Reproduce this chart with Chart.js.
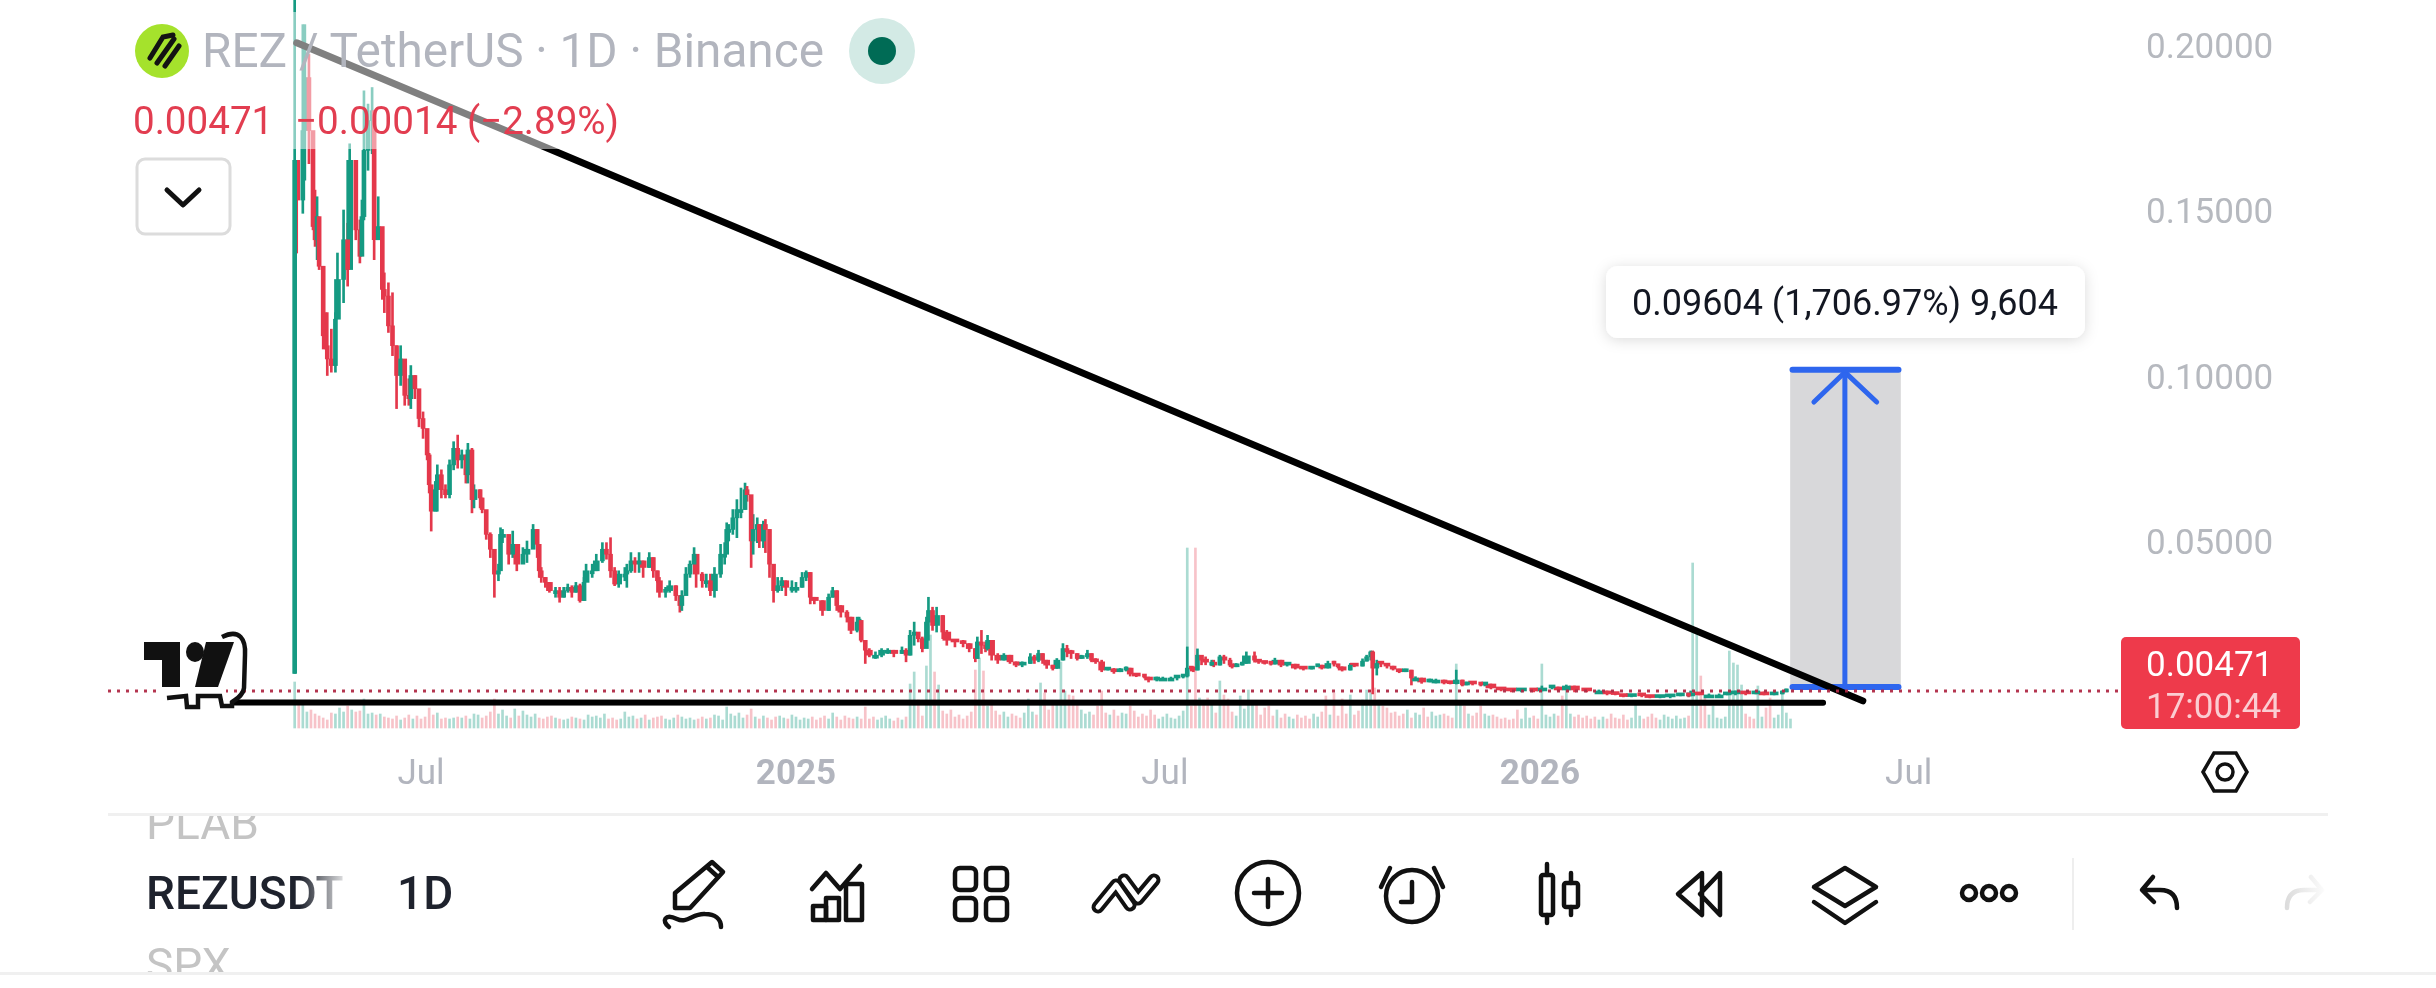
<!DOCTYPE html>
<html>
<head>
<meta charset="utf-8">
<title>REZUSDT 1D</title>
<script src="https://cdn.jsdelivr.net/npm/chart.js"></script>
<style>
  html, body { margin: 0; background: #fff; overflow: hidden; }
  #wrap { position: relative; width: 2436px; height: 988px; }
  canvas { position: absolute; left: 0; top: 0; }
  svg { position: absolute; left: 0; top: 0; font-family: Roboto, sans-serif; }
</style>
</head>
<body>
<div id="wrap">
  <canvas id="chart" width="2436" height="988"></canvas>
  <svg width="2436" height="988" viewBox="0 0 2436 988">
    <defs>
      <linearGradient id="symFade" gradientUnits="userSpaceOnUse" x1="300" x2="346" y1="0" y2="0">
        <stop offset="0" stop-color="#1e222d"/><stop offset="1" stop-color="#1e222d" stop-opacity="0.1"/>
      </linearGradient>
      <linearGradient id="redoFade" gradientUnits="userSpaceOnUse" x1="2286" x2="2324" y1="0" y2="0">
        <stop offset="0" stop-color="#dcdcdc"/><stop offset="1" stop-color="#dcdcdc" stop-opacity="0.1"/>
      </linearGradient>
      <clipPath id="listClip"><rect x="100" y="816" width="400" height="156"/></clipPath>
      <filter id="soft" x="-10%" y="-30%" width="120%" height="170%">
        <feDropShadow dx="0" dy="2" stdDeviation="7" flood-color="#000" flood-opacity="0.14"/>
      </filter>
    </defs>

    <!-- header sits on a half white veil over the chart -->
    <rect x="108" y="12" width="560" height="137" fill="#fff" fill-opacity="0.5"/>
    <circle cx="162" cy="51" r="27" fill="#a5e22c"/>
    <g stroke="#131313" stroke-width="5" fill="none" stroke-linecap="round">
      <path d="M150 58 L163 37 L173 35"/><path d="M157 63 L174 39"/><path d="M165 66 L179 46"/>
    </g>
    <text x="202" y="67" font-size="47.7" fill="#b2b5be">REZ / TetherUS · 1D · Binance</text>
    <circle cx="882" cy="51" r="33" fill="#d3eae5"/><circle cx="882" cy="51" r="14" fill="#006b55"/>
    <text x="133" y="134" font-size="38.6" fill="#e23d50">0.00471</text>
    <text x="295" y="134" font-size="38.6" fill="#e23d50">−0.00014 (−2.89%)</text>
    <rect x="137" y="159" width="93" height="75" rx="8" fill="#fff" stroke="#dcdcdc" stroke-width="3"/>
    <path d="M167 190 L183 205 L199 190" fill="none" stroke="#111" stroke-width="5" stroke-linecap="round" stroke-linejoin="round"/>

    <!-- tradingview mark with the stray outline around it -->
    <rect x="156" y="687" width="70" height="10" fill="#fff"/>
    <path d="M144 642 H180 V687 H162 V660 H144 Z" fill="#111"/>
    <ellipse cx="195" cy="652" rx="9" ry="10" fill="#111"/>
    <path d="M206 642 H234 L218 687 H195 Z" fill="#111"/>
    <path d="M222 637 C240 628 246 640 245 655 L244 688 C243 696 236 699 232 702 L232 706 H222 L220 696 H198 V707 H187 L186 696 L167 698" fill="none" stroke="#111" stroke-width="4.5"/>

    <!-- measure label -->
    <rect x="1606" y="266" width="479" height="72" rx="12" fill="#fff" filter="url(#soft)"/>
    <text x="1845" y="315" font-size="36" fill="#131722" text-anchor="middle">0.09604 (1,706.97%) 9,604</text>

    <!-- last price tag -->
    <rect x="2121" y="637" width="179" height="92" rx="5" fill="#ee3a4b"/>
    <text x="2146" y="676" font-size="35" fill="#fff">0.00471</text>
    <text x="2146" y="718" font-size="35" fill="#fff" fill-opacity="0.75">17:00:44</text>

    <!-- scale settings -->
    <g transform="translate(2225 772)" fill="none" stroke="#111" stroke-width="3.5">
      <path d="M-22 0 L-11 -19 H11 L22 0 L11 19 H-11 Z"/><circle r="8"/>
    </g>

    <rect x="108" y="813" width="2220" height="3" fill="#f0f0f0"/>
    <rect x="0" y="972" width="2436" height="3" fill="#f0f0f0"/>

    <!-- toolbar -->
    <g clip-path="url(#listClip)" font-size="46" fill="#c4c4c4">
      <text x="146" y="839">PLAB</text>
      <text x="146" y="981">SPX</text>
    </g>
    <text x="146" y="909" font-size="46" font-weight="500" fill="url(#symFade)">REZUSDT</text>
    <text x="397" y="909" font-size="46" font-weight="500" fill="#1e222d">1D</text>

    <g fill="none" stroke="#111" stroke-width="4.5" stroke-linecap="round" stroke-linejoin="round">
      <g transform="translate(695 893)">
        <path d="M-20 0 V15 H-5 L28 -21 L17 -31 Z"/><path d="M12 -26 L23 -16"/>
        <path d="M-26 34 C-34 28 -30 20 -18 26 C-8 31 -2 20 10 21 C20 21 26 26 26 34"/>
      </g>
      <g transform="translate(838 893)">
        <path d="M-26 -4 L-12 -20 L2 -4 L22 -27"/>
        <rect x="-25" y="13" width="13" height="14"/><rect x="-12" y="5" width="13" height="22"/><rect x="8" y="-9" width="16" height="36"/>
      </g>
      <g transform="translate(981 894)">
        <rect x="-26" y="-26" width="21" height="22" rx="5"/><rect x="5" y="-26" width="21" height="22" rx="5"/>
        <rect x="-26" y="4" width="21" height="22" rx="5"/><rect x="5" y="4" width="21" height="22" rx="5"/>
      </g>
      <g transform="translate(1126 893)">
        <path d="M-28 14 L-10 -8 L4 12 M-2 -13 L12 6 L28 -13" stroke-width="13"/>
        <path d="M-28 14 L-10 -8 L4 12 M-2 -13 L12 6 L28 -13" stroke="#fff" stroke-width="5"/>
      </g>
      <g transform="translate(1268 893)"><circle r="31"/><path d="M-14 0 H14 M0 -14 V14"/></g>
      <g transform="translate(1412 896)">
        <circle r="26"/><path d="M0 -14 V6 H-11"/><path d="M-31 -9 L-22 -28 M31 -9 L22 -28"/>
      </g>
      <g>
        <rect x="1541" y="875" width="12" height="40" rx="2"/><path d="M1547 864 V875 M1547 915 V923"/>
        <rect x="1564" y="883" width="14" height="24" rx="2"/><path d="M1571 873 V883 M1571 907 V915"/>
      </g>
      <path d="M1702 873 L1678 894 L1702 915 Z M1720 873 L1700 894 L1720 915 Z"/>
      <g transform="translate(1845 887)">
        <path d="M-31 0 L0 -19 L31 0 L0 19 Z"/><path d="M-31 15 L0 36 L31 15"/>
      </g>
      <circle cx="1969" cy="893" r="7"/><circle cx="1989" cy="893" r="7"/><circle cx="2009" cy="893" r="7"/>
      <path d="M2153 877 L2142 890 L2154 902 M2143 890 H2160 C2172 890 2177 897 2177 908"/>
      <path d="M2311 877 L2322 890 L2310 902 M2321 890 H2304 C2292 890 2287 897 2287 908" stroke="url(#redoFade)"/>
    </g>
    <rect x="2072" y="858" width="2" height="72" fill="#eeeeee"/>
  </svg>
</div>

<script>
// candles: thousandths of USDT, days counted from 1 Jul 2024
// each candle opens at the close before it
const firstOpen = 10;
const candleDays = [
  -62,-61,-58,-57,-55,-53,-52,-51,-50,-48,
  -47,-46,-44,-42,-41,-38,-36,-35,-32,-30,
  -29,-28,-26,-24,-23,-21,-19,-18,-16,-14,
  -12,-10,-8,-6,-5,-3,-1,1,3,4,
  5,7,8,10,12,14,16,18,20,22,
  23,25,26,29,30,32,34,36,38,39,
  40,43,45,47,50,52,55,57,58,59,
  61,63,66,68,70,72,74,76,78,80,
  81,84,86,89,91,93,95,97,100,101,
  103,105,107,109,112,114,116,117,120,122,
  125,127,128,130,132,134,135,138,140,142,
  144,147,149,150,151,153,155,157,159,160,
  162,163,165,166,168,169,171,173,175,177,
  179,182,184,187,189,191,193,197,200,202,
  204,206,209,211,214,215,216,218,220,223,
  226,229,232,236,238,240,242,244,246,248,
  249,251,253,256,258,262,266,269,272,273,
  275,277,278,280,283,286,289,292,295,299,
  301,303,305,307,310,312,315,317,319,322,
  324,327,329,331,334,337,340,343,346,348,
  351,355,357,361,364,368,371,374,376,378,
  379,381,383,385,388,389,392,394,397,398,
  400,403,405,409,411,414,417,419,422,425,
  429,433,437,440,442,445,448,450,452,456,
  458,462,464,466,467,469,471,474,477,480,
  483,486,488,491,495,498,502,505,508,511,
  513,516,520,522,525,530,535,540,546,550,
  555,558,562,566,572,578,582,586,590,594,
  599,603,608,613,618,622,623,627,632,637,
  641,645,650,655,659,664,668,670
];
const candleHighs = [
  250,164,206,206,197,164,156,154,143,133,
  119,119,114,119,137,150,146,170,160,147,
  153,186,182,187,168,154,143,131,128,125,
  109,109,100,99,103,100,93.5,89,81,76.5,
  65,68,73,71.5,67,74.5,80,82,77.5,76,
  79.5,78,67,65.5,63,59,52.5,43,43,54,
  53.5,51,53,47.5,48,50,55,53.5,46.5,42,
  39,37.5,36,36,36,37,36.5,37.5,37,39,
  43,43,46,49.5,49.5,51,42,41,42,43,
  46.5,45,46.5,44,46.5,45,41,39,36,38,
  36.5,33.5,35,42,44,48,45,40.5,40,40,
  42,49,49.5,55.5,55,59.5,62.5,66,67.5,66.5,
  63,58,57,55,56,56.5,53.5,41,39,39,
  38,38,37.5,40.5,41,40.5,33,32,34,36,
  35,30.5,29,27,27,27,26,19,17.5,16.5,
  17.5,17.5,17,18,17.5,23,25.5,22,21,27,
  33,30,30,27.5,23,20,20,19,17.5,21,
  23,19.5,21.5,20,16,16,15.5,13.5,13.5,16,
  15.5,17,16,14,12.5,14.5,19,18.5,17,16,
  15.5,17,16,14.5,14,11.5,11.5,11.5,12,11.6,
  9.8,9.5,8.9,8.9,8.9,8.9,8.9,9.5,18,12,
  12,17.4,14.7,15,14,14,15.5,15.5,14.6,12.5,
  13,13.4,16.5,16.5,14,13.7,13.4,14.6,14,13,
  12.8,11.6,12,12.8,12.5,13.7,13.7,12.8,12,13,
  12.5,14.4,15.5,16.8,16.8,14,13.4,13,12.2,11.3,
  11.3,11,9,8.6,8.3,8.3,8,7.1,11,8,
  7.4,7.1,6.8,7.1,6.8,5.6,5,5,5,6.2,
  6.2,5.9,6.5,6.2,5,5,4.7,3.8,3.6,3.5,
  3.5,3.2,2.9,3.2,3.5,3.8,4.7,4.1,3.8,3.8,
  3.8,4.7,4.4,4.7,4.4,4.1,4.7,5.3
];
const candleLows = [
  10,137,149,159,164,144,139,135,132,108,
  108,100,101,101,122,122,127,147,141,134,
  138,147,162,167,135,143,123,119,113,106,
  90,97,91,91,90,93,84.5,81,74.5,64.5,
  53,59,59,63,63,63,71.5,72,72,67.5,
  67.5,58.5,60,60,58.5,50.5,45,33,38,43,
  49.5,43,45,41,43.5,43.5,49.5,45,39,37.5,
  36,34.5,33,31.5,33,34.5,33,34.5,31.5,32,
  38,39,41,43.5,44.5,39,36.5,36,38,36,
  40.5,40.5,40.5,39,42,39,37.5,33,33,34.5,
  32,28.5,29,35,39,43,36,36,36,33.5,
  33,39,43,46.5,50,52,51,57,59.5,62,
  42,46,49.5,48,48,46.5,39,31.5,34.5,35,
  33.5,34.5,34.5,36,38,31,31,27.5,29,33,
  29,27,25.5,22,22.5,24.5,19.5,13,15,14.5,
  15,16,15,16,13.5,15.5,18.5,19.5,16.5,18,
  20,23,22.5,20.5,18.5,18,18,16.5,13.5,14.5,
  16,16.5,17,14,13,14,13,12,12,13,
  13,13.5,13,11.5,11,11.5,14,15,14.5,14,
  14.5,14.5,13.5,13,10.5,11,10,10.5,10.7,9.2,
  9,8.6,7.4,7.7,8.3,8.3,8,8.6,8.9,10.7,
  10.5,11,12.6,12.6,12.3,12,12.5,13,12,11.6,
  12,12.5,13,13.4,13,12.8,12.5,12.8,12,12.2,
  11.3,11,11.3,12,11.3,11.6,12.2,11.6,10.7,11,
  12,12.2,13.7,14,3.8,9.5,12,11.6,11,10.2,
  10.5,6.5,8.3,7,7.4,7.1,6.8,6.8,6.8,6.2,
  6.5,6.5,6.2,6.2,5.3,4.7,4.4,4.4,4.4,4.7,
  5.3,4.7,5,4.4,4.4,4.4,3.5,3.5,2.9,2.9,
  2.9,2.6,2.6,2.6,3.2,2.9,3.2,3.5,3.2,3.2,
  3.5,3.5,3.5,3.8,3.5,3.5,3.8,4.4
];
const candleCloses = [
  165,153,174,190,174,145,141,148,133,112,
  109,105,103,117,129,141,132,165,144,136,
  148,168,177,180,141,145,126,124,115,109,
  100,105,94,93,100,96,87,84,76,67,
  59,65.5,70,65.5,64,73,78,74.5,76,70,
  77.5,62.5,65.5,63,59.5,52,47.5,40,41,52,
  52,46,49,43,46,47.5,53.5,49,41,39,
  37.5,35,35,33,35,36,34.5,36.5,32,37.5,
  41,41,44,47.5,46,41,37,40,40,41,
  44,43,44,42,45,41,38,34.5,35,36.5,
  33.5,30.5,33.5,40,43,46,40,38,38,35,
  40,46,46,53.5,53.5,57,59.5,59.5,65.5,64,
  50,53.5,55,50,55,53.5,43,35,36.5,38,
  36,36,36,39,40.5,33,32,29,33,35,
  30.5,28.5,27,23,25.5,26,20,17,15.5,15.5,
  17,17,16,17,15.5,21.5,22.5,20.5,17.5,25.5,
  29,24.5,27.5,22.5,20,19.5,19,17.5,14.5,19.5,
  18.5,17.5,20,15.5,14,15.5,13.5,12.5,13,15,
  14,16,14,12.5,11.5,14,17.5,16.5,16,14.5,
  15,16,14,13.5,11,11.3,10.5,11,11.6,9.8,
  9.2,8.9,8,8.6,8.6,8.6,8.9,9.2,11.6,11.3,
  11,15.5,14,13.4,13.4,12.5,15,14,12.5,12,
  12.5,13,15.3,14,13.4,13,12.8,14,12.5,12.8,
  11.6,11.3,12,12.5,11.6,13,12.8,12,11,12.5,
  12.2,13.7,15,16.5,11.6,13,12.8,12.2,11.3,10.5,
  11,8.6,8.6,7.4,8,8,7.1,6.9,8,6.5,
  7.1,6.8,6.5,6.8,5.6,5,4.7,5,4.7,5.6,
  5.9,5,6.2,5,4.7,4.7,3.8,3.6,3,3.5,
  3.2,2.7,2.9,3.2,3.5,3.2,3.8,3.5,3.5,3.5,
  3.8,4.4,3.8,4.4,3.5,3.8,4.4,4.71
];

// volume estimated bar by bar, one bar every two days from the first candle
const volumeFirstDay = -62;
const volumeStepDays = 2;
const volumes = [
  46,27,27,16,18,14,12,10,8,15,
  14,20,16,22,18,16,17,29,14,15,
  13,14,11,10,9,12,8,10,13,9,
  12,9,11,20,13,15,9,10,9,10,
  11,10,12,9,14,13,10,12,16,29,
  14,18,12,10,19,12,17,13,11,14,
  10,9,11,12,10,9,8,9,11,10,
  9,8,13,11,12,10,14,9,10,8,
  9,16,11,12,9,10,13,8,10,11,
  12,9,8,10,13,11,9,10,8,9,
  11,9,10,13,12,8,21,14,12,15,
  10,13,19,11,9,12,10,8,11,12,
  10,9,13,11,8,10,9,11,8,10,
  12,9,15,11,8,12,10,9,11,9,
  21,9,11,8,10,12,9,7,10,8,
  11,44,56,28,12,62,93,56,43,17,
  14,18,11,13,9,12,16,58,70,57,
  22,28,17,13,16,11,14,12,10,15,
  29,16,13,45,35,18,27,25,66,37,
  33,32,24,18,14,16,13,22,37,15,
  13,18,12,15,14,22,17,11,14,12,
  18,13,9,11,14,10,9,12,17,180,
  22,180,30,24,30,25,15,47,33,29,
  16,12,32,19,38,24,24,13,20,22,
  12,18,10,14,11,9,13,10,12,9,
  14,11,16,32,13,35,12,29,14,33,
  13,17,28,38,35,40,28,22,20,15,
  16,12,14,18,10,15,13,20,11,16,
  12,13,14,12,10,64,25,22,14,12,
  15,22,14,12,13,11,9,10,8,9,
  18,9,20,10,12,9,64,13,11,14,
  12,32,37,14,11,13,10,12,9,11,
  8,11,9,14,10,9,13,8,10,25,
  12,9,11,14,10,8,13,11,9,12,
  9,10,12,165,100,52,30,13,22,10,
  9,11,77,65,63,43,14,11,9,42,
  11,20,30,10,13,34,15,9
];

const priceTicks = [0.05, 0.1, 0.15, 0.2];
const timeTickDays = [0, 184, 365, 549, 730];
const timeTickLabels = ["Jul", "2025", "Jul", "2026", "Jul"];
const lastPrice = 4.71;

// drawings on the chart, same units as the candles
const trendDays = [-61, 707.5];
const trendPrices = [200.5, 1.7];
const floorDays = [-92, 688];
const floorPrices = [1.2, 1.1];
const measureDays = [673, 725];
const measureCentre = 699;
const measureFrom = 5.9;
const measureTo = 101.7;
const wingDays = [683.5, 698.7, 714.3];
const wingPrices = [92, 101, 92];

const upColor = "#159a82";
const downColor = "#e4384b";
const blue = "#2e66ee";
const priceOf = (v) => v / 1000;
// the reference prints its price labels a little under the level they name
const labelNudge = 0.0013;

const candles = candleDays.map((day, i) => ({
  day,
  open: i ? candleCloses[i - 1] : firstOpen,
  close: candleCloses[i],
  high: candleHighs[i],
  low: candleLows[i],
  gap: i < candleDays.length - 1 ? candleDays[i + 1] - day : 2,
}));

const isUp = (c) => c.close >= c.open;
const candleColor = (ctx) => (ctx.raw.y[1] >= ctx.raw.y[0] ? upColor : downColor);

const wicks = candles.map((c) => ({ x: c.day, y: [priceOf(c.low), priceOf(c.high)] }));

// wider gaps between the read candles get a wider body so the line stays closed
const bodyGroups = [
  { width: 4, test: (g) => g <= 2 },
  { width: 6, test: (g) => g === 3 },
  { width: 8, test: (g) => g === 4 },
  { width: 10, test: (g) => g >= 5 },
];
const bodyDatasets = bodyGroups.map((group) => ({
  type: "bar",
  grouped: false,
  order: 5,
  barThickness: group.width,
  minBarLength: 3,
  backgroundColor: candleColor,
  data: candles
    .filter((c) => group.test(c.gap))
    .map((c) => ({ x: c.day, y: [priceOf(c.open), priceOf(c.close)] })),
}));

const volumeBars = volumes.map((v, i) => ({ x: volumeFirstDay + i * volumeStepDays, y: v }));
const volumeColor = (ctx) => {
  const day = ctx.raw.x;
  const c = candles.filter((k) => k.day <= day).pop() || candles[0];
  return isUp(c) ? "rgba(21,154,130,0.36)" : "rgba(228,56,75,0.3)";
};

const lineSet = (days, prices, color, width, order, extra) => ({
  type: "line",
  order,
  borderColor: color,
  borderWidth: width,
  borderCapStyle: "round",
  borderJoinStyle: "round",
  pointRadius: 0,
  tension: 0,
  data: days.map((d, i) => ({ x: d, y: priceOf(prices[i]) })),
  ...extra,
});

new Chart(document.getElementById("chart"), {
  type: "bar",
  data: {
    datasets: [
      {
        type: "bar",
        grouped: false,
        order: 9,
        yAxisID: "vol",
        barThickness: 2,
        backgroundColor: volumeColor,
        data: volumeBars,
      },
      {
        type: "bar",
        grouped: false,
        order: 8,
        barThickness: 110,
        backgroundColor: "#d8d8da",
        data: [{ x: measureCentre, y: [priceOf(measureFrom), priceOf(measureTo)] }],
      },
      {
        type: "bar",
        grouped: false,
        order: 6,
        barThickness: 2,
        backgroundColor: (ctx) => {
          const c = candles[ctx.dataIndex];
          return c && isUp(c) ? upColor : downColor;
        },
        data: wicks,
      },
      ...bodyDatasets,
      lineSet(trendDays, trendPrices, "#000", 7, 3),
      lineSet(floorDays, floorPrices, "#000", 6, 3),
      lineSet(measureDays, [measureTo, measureTo], blue, 6, 4),
      lineSet(measureDays, [measureFrom, measureFrom], blue, 6, 4),
      lineSet([wingDays[1], wingDays[1]], [measureFrom, measureTo], blue, 5, 4),
      lineSet(wingDays, wingPrices, blue, 5, 4),
      lineSet([-153.6, 833.7], [lastPrice, lastPrice], "rgba(176,42,70,0.95)", 3, 2, {
        borderDash: [3, 6],
        borderCapStyle: "butt",
      }),
    ],
  },
  options: {
    responsive: false,
    animation: false,
    layout: { padding: { left: 108 } },
    plugins: { legend: { display: false }, tooltip: { enabled: false } },
    scales: {
      x: {
        type: "linear",
        offset: false,
        min: -153.6,
        max: 833.7,
        grid: { display: false, drawTicks: false },
        border: { display: false },
        afterBuildTicks: (axis) => {
          axis.ticks = timeTickDays.map((value) => ({ value }));
        },
        afterFit: (axis) => {
          axis.height = 243;
          axis.paddingLeft = 0;
          axis.paddingRight = 0;
        },
        ticks: {
          autoSkip: false,
          maxRotation: 0,
          padding: 9,
          color: "#b2b5be",
          font: (ctx) => {
            const label = timeTickLabels[timeTickDays.indexOf(ctx.tick ? ctx.tick.value : 0)];
            return { family: "Roboto", size: 35, weight: label && label[0] === "2" ? "bold" : "normal" };
          },
          callback: (value) => timeTickLabels[timeTickDays.indexOf(value)],
        },
      },
      y: {
        position: "right",
        min: -0.01163,
        max: 0.21344,
        grid: { display: false, drawTicks: false },
        border: { display: false },
        afterBuildTicks: (axis) => {
          axis.ticks = priceTicks.map((value) => ({ value: value - labelNudge }));
        },
        afterFit: (axis) => {
          axis.width = 316;
          // labels may overhang, the plot has to run to the top of the page
          axis.paddingTop = 0;
          axis.paddingBottom = 0;
        },
        ticks: {
          padding: 26,
          color: "#b6b9bf",
          font: { family: "Roboto", size: 35 },
          callback: (value, index) => priceTicks[index].toFixed(5),
        },
      },
      vol: { display: false, min: -17, max: 728 },
    },
  },
});
</script>
</body>
</html>
